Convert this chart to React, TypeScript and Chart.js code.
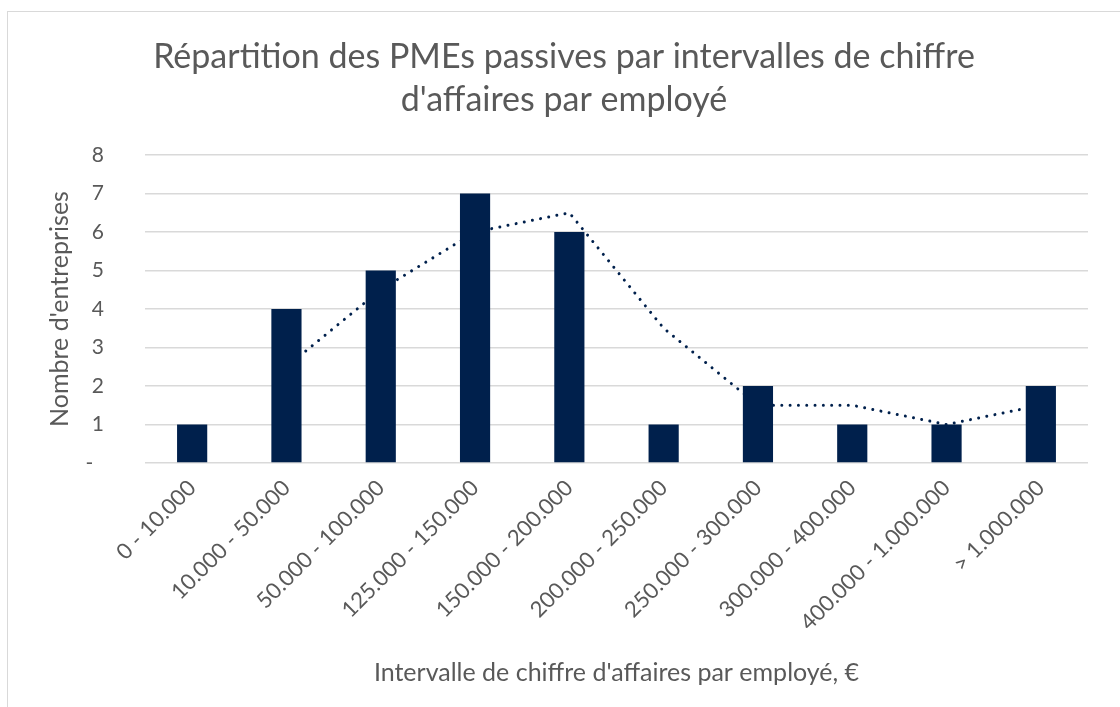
import React, { useEffect, useRef } from "react";
import { Chart, registerables } from "chart.js";

Chart.register(...registerables);

const categories = [
  "0 - 10.000",
  "10.000 - 50.000",
  "50.000 - 100.000",
  "125.000 - 150.000",
  "150.000 - 200.000",
  "200.000 - 250.000",
  "250.000 - 300.000",
  "300.000 - 400.000",
  "400.000 - 1.000.000",
  "> 1.000.000",
];
const counts = [1, 4, 5, 7, 6, 1, 2, 1, 1, 2];
const movingAverage = [null, 2.5, 4.5, 6, 6.5, 3.5, 1.5, 1.5, 1, 1.5];
const titleLines = [
  "Répartition des PMEs passives par intervalles de chiffre",
  "d'affaires par employé",
];
const yTitle = "Nombre d'entreprises";
const xTitle = "Intervalle de chiffre d'affaires par employé, €";

const NAVY = "#00204c";
const GREY = "#595959";
const GRID = "#d9d9d9";
const FONT = "Lato, 'Open Sans', sans-serif";

export default function App() {
  const ref = useRef<HTMLCanvasElement>(null);
  useEffect(() => {
    if (!ref.current) return;
    const chart = new Chart(ref.current, {
      type: "bar",
      data: {
        labels: categories,
        datasets: [
          {
            type: "bar",
            data: counts,
            backgroundColor: NAVY,
            barPercentage: 0.32,
            categoryPercentage: 1,
            order: 0,
          },
          {
            type: "line",
            data: movingAverage as any,
            borderColor: NAVY,
            borderWidth: 3,
            borderDash: [0.01, 8.3],
            borderCapStyle: "round",
            pointRadius: 0,
            fill: false,
            tension: 0,
            order: 1,
          } as any,
        ],
      },
      options: {
        animation: false,
        responsive: true,
        maintainAspectRatio: false,
        layout: { padding: { left: 40, right: 32, top: 0, bottom: 19 } },
        plugins: {
          legend: { display: false },
          tooltip: { enabled: false },
          title: {
            display: true,
            text: titleLines,
            color: GREY,
            font: { family: FONT, size: 34, weight: "normal", lineHeight: 1.265 },
            padding: { top: 36, bottom: 33 },
          },
        },
        scales: {
          x: {
            grid: { display: false },
            border: { display: false },
            ticks: {
              color: GREY,
              font: { family: FONT, size: 22 },
              maxRotation: 45,
              minRotation: 45,
              autoSkip: false,
              padding: 4,
            },
            title: {
              display: true,
              text: xTitle,
              color: GREY,
              font: { family: FONT, size: 25 },
              padding: { top: 0, bottom: 0 },
            },
            afterFit: (s: any) => {
              s.height = 225;
            },
          },
          y: {
            min: 0,
            max: 8,
            grid: { color: GRID, lineWidth: 1.5, drawTicks: false },
            border: { display: false },
            ticks: {
              stepSize: 1,
              color: GREY,
              font: { family: FONT, size: 21 },
              padding: 41,
              callback: (v: any) => (Number(v) === 0 ? "-  " : String(v)),
            },
            title: {
              display: true,
              text: yTitle,
              color: GREY,
              font: { family: FONT, size: 25 },
              padding: { top: 5, bottom: 0 },
            },
            afterFit: (s: any) => {
              s.width = 105;
            },
          },
        },
      },
    });
    return () => chart.destroy();
  }, []);
  return (
    <div style={{ position: "absolute", left: 0, top: 0, width: 1120, height: 707 }}>
      <div
        style={{
          position: "absolute",
          left: 7,
          top: 11,
          width: 1200,
          height: 800,
          border: "1px solid #d9d9d9",
          boxSizing: "border-box",
        }}
      />
      <canvas ref={ref} style={{ position: "relative" }} />
    </div>
  );
}
